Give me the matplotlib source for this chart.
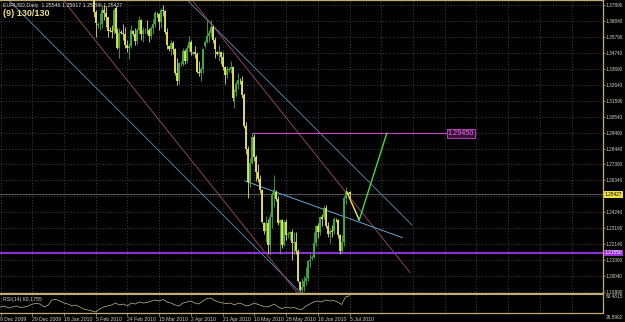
import matplotlib
matplotlib.use("Agg")
import matplotlib.pyplot as plt
import matplotlib.transforms as mtransforms

plt.rcParams['font.family'] = ['Liberation Sans Narrow', 'Liberation Sans', 'DejaVu Sans']

# ---- data: EURUSD daily bars (MT4 bar index, 6 bars a week incl. Sunday) ----
first_bar = 47
opens = [1.3915, 1.3745, 1.3660, 1.3665, 1.3665, 1.3760, 1.3740, 1.3710, 1.3630, 1.3620,
         1.3620, 1.3770, 1.3620, 1.3510, 1.3615, 1.3610, 1.3600, 1.3530, 1.3510, 1.3520,
         1.3620, 1.3600, 1.3555, 1.3625, 1.3690, 1.3600, 1.3625, 1.3630, 1.3625, 1.3590,
         1.3640, 1.3670, 1.3730, 1.3730, 1.3680, 1.3760, 1.3750, 1.3615, 1.3520, 1.3500,
         1.3540, 1.3500, 1.3340, 1.3290, 1.3400, 1.3405, 1.3490, 1.3420, 1.3510, 1.3550,
         1.3470, 1.3480, 1.3470, 1.3350, 1.3340, 1.3370, 1.3520, 1.3550, 1.3590, 1.3610,
         1.3650, 1.3560, 1.3480, 1.3470, 1.3480, 1.3450, 1.3380, 1.3330, 1.3360, 1.3370,
         1.3380, 1.3180, 1.3220, 1.3270, 1.3290, 1.3290, 1.3200, 1.2990, 1.2840, 1.2620,
         1.2750, 1.2920, 1.2790, 1.2690, 1.2640, 1.2570, 1.2350, 1.2300, 1.2350, 1.2210,
         1.2390, 1.2540, 1.2560, 1.2510, 1.2350, 1.2370, 1.2210, 1.2360, 1.2270, 1.2280,
         1.2290, 1.2220, 1.2230, 1.2170, 1.1960, 1.1910, 1.1930, 1.1970, 1.1990, 1.2100,
         1.2120, 1.2130, 1.2220, 1.2330, 1.2290, 1.2390, 1.2390, 1.2450, 1.2330, 1.2280,
         1.2300, 1.2300, 1.2370, 1.2370, 1.2270, 1.2170, 1.2230, 1.2520, 1.2550, 1.25546]
highs = [1.3925, 1.3760, 1.3680, 1.3740, 1.3790, 1.3790, 1.3785, 1.3715, 1.3645, 1.3660,
         1.3775, 1.3785, 1.3640, 1.3640, 1.3630, 1.3670, 1.3650, 1.3560, 1.3540, 1.3660,
         1.3630, 1.3640, 1.3640, 1.3720, 1.3700, 1.3650, 1.3640, 1.3690, 1.3640, 1.3655,
         1.3700, 1.3750, 1.3745, 1.3740, 1.3770, 1.3790, 1.3760, 1.3640, 1.3530, 1.3560,
         1.3555, 1.3510, 1.3440, 1.3415, 1.3420, 1.3510, 1.3500, 1.3530, 1.3590, 1.3560,
         1.3490, 1.3520, 1.3480, 1.3420, 1.3385, 1.3510, 1.3560, 1.3690, 1.3630, 1.3690,
         1.3660, 1.3580, 1.3490, 1.3530, 1.3490, 1.3480, 1.3390, 1.3390, 1.3380, 1.3420,
         1.3390, 1.3240, 1.3290, 1.3340, 1.3310, 1.3320, 1.3210, 1.3020, 1.2860, 1.2780,
         1.2945, 1.2940, 1.2800, 1.2740, 1.2670, 1.2580, 1.2360, 1.2400, 1.2380, 1.2420,
         1.2560, 1.2670, 1.2570, 1.2530, 1.2380, 1.2380, 1.2370, 1.2380, 1.2290, 1.2300,
         1.2310, 1.2290, 1.2290, 1.2180, 1.1970, 1.1990, 1.2000, 1.2060, 1.2110, 1.2150,
         1.2140, 1.2290, 1.2340, 1.2350, 1.2400, 1.2410, 1.2470, 1.2470, 1.2360, 1.2320,
         1.2340, 1.2390, 1.2385, 1.2380, 1.2280, 1.2270, 1.2530, 1.2590, 1.2560, 1.25617]
lows = [1.3715, 1.3580, 1.3640, 1.3630, 1.3640, 1.3690, 1.3650, 1.3580, 1.3615, 1.3575,
        1.3600, 1.3600, 1.3500, 1.3443, 1.3600, 1.3560, 1.3510, 1.3480, 1.3435, 1.3510,
        1.3590, 1.3530, 1.3535, 1.3600, 1.3560, 1.3550, 1.3610, 1.3600, 1.3550, 1.3570,
        1.3600, 1.3650, 1.3715, 1.3630, 1.3640, 1.3720, 1.3600, 1.3500, 1.3490, 1.3460,
        1.3470, 1.3330, 1.3265, 1.3270, 1.3390, 1.3390, 1.3400, 1.3410, 1.3490, 1.3460,
        1.3460, 1.3440, 1.3340, 1.3320, 1.3290, 1.3340, 1.3510, 1.3540, 1.3550, 1.3580,
        1.3540, 1.3440, 1.3460, 1.3420, 1.3400, 1.3360, 1.3270, 1.3310, 1.3350, 1.3340,
        1.3160, 1.3110, 1.3190, 1.3240, 1.3270, 1.3180, 1.2980, 1.2810, 1.2520, 1.2590,
        1.2740, 1.2760, 1.2630, 1.2620, 1.2550, 1.2350, 1.2280, 1.2230, 1.2150, 1.2140,
        1.2320, 1.2460, 1.2500, 1.2340, 1.2150, 1.2190, 1.2200, 1.2240, 1.2250, 1.2240,
        1.2110, 1.2150, 1.2150, 1.1960, 1.1900, 1.1875, 1.1900, 1.1940, 1.1970, 1.2060,
        1.2110, 1.2120, 1.2200, 1.2250, 1.2270, 1.2330, 1.2380, 1.2320, 1.2260, 1.2220,
        1.2260, 1.2280, 1.2360, 1.2250, 1.2150, 1.2160, 1.2200, 1.2480, 1.2540, 1.25206]
closes = [1.3745, 1.3675, 1.3665, 1.3670, 1.3760, 1.3740, 1.3710, 1.3620, 1.3620, 1.3615,
          1.3760, 1.3610, 1.3510, 1.3610, 1.3610, 1.3600, 1.3530, 1.3510, 1.3520, 1.3630,
          1.3600, 1.3555, 1.3625, 1.3690, 1.3600, 1.3630, 1.3630, 1.3625, 1.3590, 1.3640,
          1.3670, 1.3740, 1.3730, 1.3680, 1.3760, 1.3750, 1.3615, 1.3530, 1.3500, 1.3540,
          1.3500, 1.3340, 1.3290, 1.3410, 1.3405, 1.3490, 1.3420, 1.3510, 1.3550, 1.3480,
          1.3480, 1.3470, 1.3350, 1.3340, 1.3370, 1.3500, 1.3550, 1.3590, 1.3610, 1.3650,
          1.3560, 1.3500, 1.3470, 1.3480, 1.3450, 1.3380, 1.3330, 1.3370, 1.3370, 1.3380,
          1.3180, 1.3220, 1.3270, 1.3300, 1.3290, 1.3200, 1.2990, 1.2840, 1.2620, 1.2750,
          1.2920, 1.2790, 1.2690, 1.2640, 1.2570, 1.2360, 1.2300, 1.2350, 1.2210, 1.2390,
          1.2540, 1.2570, 1.2510, 1.2350, 1.2370, 1.2210, 1.2360, 1.2270, 1.2280, 1.2290,
          1.2220, 1.2230, 1.2170, 1.1970, 1.1910, 1.1930, 1.1970, 1.1990, 1.2100, 1.2110,
          1.2130, 1.2220, 1.2330, 1.2290, 1.2390, 1.2380, 1.2450, 1.2330, 1.2280, 1.2300,
          1.2295, 1.2380, 1.2370, 1.2270, 1.2170, 1.2230, 1.2520, 1.2560, 1.2550, 1.25427]

# RSI(14), one reading every second bar from bar 0
rsi_step = 2
rsi_values = [40.3, 42.1, 38.5, 40.3, 42.1, 39.4, 40.3, 42.1, 45.6, 46.5,
              45.6, 40.3, 43.9, 52.8, 53.7, 51.0, 47.4, 45.6, 42.1, 43.9,
              40.3, 36.7, 35.0, 33.2, 31.4, 36.7, 40.3, 42.1, 43.9, 47.4,
              43.9, 45.6, 42.1, 47.4, 45.6, 49.2, 47.4, 48.3, 51.0, 52.8,
              51.0, 53.7, 49.2, 47.4, 43.9, 42.1, 47.4, 49.2, 51.0, 47.4,
              45.6, 51.0, 55.4, 56.3, 51.9, 49.2, 47.4, 46.5, 47.4, 43.9,
              47.4, 45.6, 42.1, 43.9, 47.4, 44.7, 42.1, 40.3, 42.1, 45.6,
              40.3, 37.6, 40.3, 38.5, 39.4, 36.7, 35.8, 42.1, 45.6, 49.2,
              51.0, 49.2, 52.8, 51.0, 51.9, 49.2, 44.7, 58.1, 60.18]

date_bars = [0, 16, 32, 48, 64, 80, 96, 112, 128, 144, 160, 176]
date_labels = ['9 Dec 2009', '29 Dec 2009', '18 Jan 2010', '5 Feb 2010', '24 Feb 2010',
               '15 Mar 2010', '2 Apr 2010', '21 Apr 2010', '10 May 2010', '28 May 2010',
               '16 Jun 2010', '5 Jul 2010']
grid_bars = [0, 16, 32, 48, 64, 80, 96, 112, 128, 144, 160, 176, 192, 208, 224, 240,
             256, 272, 288]
price_ticks = [1.18990, 1.20040, 1.21090, 1.22140, 1.23190, 1.24240, 1.25290, 1.26340,
               1.27390, 1.28440, 1.29490, 1.30540, 1.31590, 1.32640, 1.33690, 1.34740,
               1.35790, 1.36840, 1.37890]
rsi_max, rsi_min = 63.4815, 29.5902

bid_price = 1.25427
support_level = 1.21550
target_level = 1.29450
target_span = [127, 225]

# drawn trend lines: (bar, price) end points
blue_low = [(0, 1.3878), (152, 1.1883)]
blue_high = [(94.1, 1.38253), (207.5, 1.23389)]
red_low = [(29.5, 1.38583), (153.6, 1.18270)]
red_high = [(96.6, 1.38253), (206.5, 1.20252)]
neckline = [(123.3, 1.26296), (202.5, 1.22564)]
path_down = [(174.6, 1.25589), (180.9, 1.23720)]
path_up = [(180.9, 1.23720), (194.8, 1.29450)]

# ---- styling ----
W, H = 625, 322
frame = '#c2ad72'
grid_col = '#4a4a4a'
txt = '#d6d0bc'
bull = '#3fae3f'
bear = '#e6e055'
lab_size = 3.4

fig = plt.figure(figsize=(W / 100, H / 100), dpi=100, facecolor='black')
ax = fig.add_axes([0, 1 - 294 / H, 603 / W, 294 / H], facecolor='black')
rsi = fig.add_axes([0, 1 - 313 / H, 603 / W, 19 / H], facecolor='black', sharex=ax)

px_per_bar = 1.983
ax.set_xlim(-0.5 / px_per_bar, 602.5 / px_per_bar)
ax.set_ylim(1.18832, 1.38253)
rsi.set_ylim(rsi_min, rsi_max)

dots = (0, (1.2, 2.2))
for p in price_ticks:
    ax.axhline(p, color=grid_col, lw=0.6, ls=dots, zorder=0)
for b in grid_bars:
    ax.axvline(b, color=grid_col, lw=0.6, ls=dots, zorder=0)
    rsi.axvline(b, color=grid_col, lw=0.6, ls=dots, zorder=0)

# bid line
ax.axhline(bid_price, color='#7a7a7a', lw=0.5, zorder=1)

# candles
bars = list(range(first_bar, first_bar + len(closes)))
for colour, rising in ((bull, True), (bear, False)):
    sel = [k for k in range(len(bars)) if (closes[k] > opens[k]) == rising]
    xs = [bars[k] for k in sel]
    ax.vlines(xs, [lows[k] for k in sel], [highs[k] for k in sel], color=colour, lw=0.6, zorder=3)
    ax.vlines(xs, [min(opens[k], closes[k]) for k in sel],
              [max(opens[k], closes[k]) + 0.0002 * (opens[k] == closes[k]) for k in sel],
              color=colour, lw=1.35, zorder=3)

# channels
for pts, col in ((blue_low, '#4e7fa8'), (blue_high, '#4e7fa8'),
                 (red_low, '#93405f'), (red_high, '#93405f'), (neckline, '#66a8d8')):
    ax.plot([p[0] for p in pts], [p[1] for p in pts], color=col, lw=0.7, zorder=2)

ax.plot([p[0] for p in path_down], [p[1] for p in path_down], color='#f2e84a', lw=1.0, zorder=4)
ax.plot([p[0] for p in path_up], [p[1] for p in path_up], color='#44dd33', lw=1.0, zorder=4)

ax.axhline(support_level, color='#8d2fd6', lw=1.5, zorder=2)
ax.plot(target_span, [target_level, target_level], color='#cc44cc', lw=0.8, zorder=2)
ax.text(target_span[1] + 0.6, target_level, '%.5f' % target_level, fontsize=5.2,
        color='#e878e8', va='center', ha='left', zorder=5,
        bbox=dict(facecolor='#3c103c', edgecolor='#cc44cc', lw=0.6, pad=0.8))

# price axis on the right
ax.yaxis.tick_right()
ax.set_yticks(price_ticks)
ax.set_yticklabels(['' if abs(p - 1.25290) < 1e-6 else '%.5f' % p for p in price_ticks])
ax.tick_params(axis='y', length=1.3, width=0.5, color=frame, pad=0.6, labelsize=lab_size,
               labelcolor=txt)
ax.tick_params(axis='x', bottom=False, labelbottom=False)

side = mtransforms.blended_transform_factory(ax.transAxes, ax.transData)
ax.text(1.003, bid_price, '%.5f' % bid_price, transform=side, fontsize=lab_size, color='black',
        va='center', ha='left', zorder=6, clip_on=False,
        bbox=dict(facecolor='#f0e23c', edgecolor='none', pad=0.6))
ax.text(1.003, support_level, '%.5f' % support_level, transform=side, fontsize=lab_size,
        color='white', va='center', ha='left', zorder=6, clip_on=False,
        bbox=dict(facecolor='#9a32d8', edgecolor='none', pad=0.6))

for a in (ax, rsi):
    a.spines['left'].set_visible(False)
    for s in ('top', 'bottom', 'right'):
        a.spines[s].set_color(frame)
        a.spines[s].set_linewidth(0.9)
ax.spines['bottom'].set_linewidth(1.5)
rsi.spines['top'].set_linewidth(1.5)

# RSI panel
rsi_bars = list(range(0, rsi_step * len(rsi_values), rsi_step))
rsi.plot(rsi_bars, rsi_values, color='#c9bb8c', lw=0.5, zorder=3)
rsi.set_yticks([])
rsi.set_xticks(date_bars)
rsi.set_xticklabels(date_labels)
rsi.tick_params(axis='x', length=2.2, width=0.5, color=frame, pad=0.8, labelsize=3.7,
                labelcolor=txt)
for lab in rsi.get_xticklabels():
    lab.set_ha('left')

fig.text(605.5 / W, 1 - 296.7 / H, '%.4f' % rsi_max, fontsize=lab_size, color=txt, va='center')
fig.text(605.5 / W, 1 - 317.5 / H, '%.4f' % rsi_min, fontsize=lab_size, color=txt, va='center')
fig.text(3 / W, 1 - 299.5 / H, 'RSI(14) 60.1755', fontsize=3.8, color=txt, va='center')

# header
fig.text(3 / W, 1 - 5 / H, 'EURUSD,Daily  1.25546 1.25617 1.25206 1.25427', fontsize=3.8,
         color='#e0e0e0', va='center')
fig.text(3 / W, 1 - 13 / H, '(9) 130/130', fontsize=6.5, fontweight='bold',
         color='#eee08a', va='center')

fig.savefig('out.png', dpi=100, facecolor='black')
